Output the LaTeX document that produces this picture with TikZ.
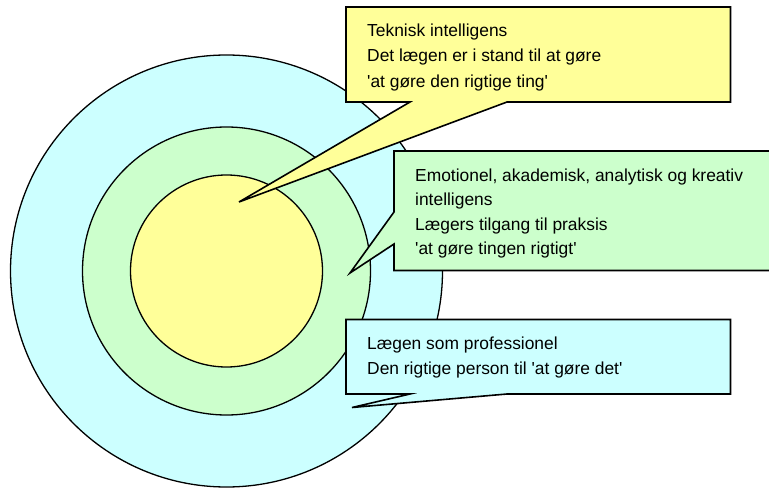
\documentclass[tikz,border=0pt]{standalone}
\usepackage{fontspec}
\setmainfont{Liberation Sans}[Ligatures=TeXOff]
\definecolor{ringblue}{HTML}{CCFFFF}
\definecolor{ringgreen}{HTML}{CCFFCC}
\definecolor{ringyellow}{HTML}{FFFF99}
\begin{document}
\begin{tikzpicture}[x=1bp,y=-1bp,
  ring/.style={circle,draw=black,line width=1.3bp,inner sep=0pt},
  callout/.style={draw=black,line width=1.6bp,line join=miter},
  txt/.style={anchor=base west,inner sep=0pt,font=\fontsize{17.4bp}{24bp}\selectfont}]
\useasboundingbox (0,0) rectangle (769,488);
\clip (0,0) rectangle (769,488);

% concentric rings
\coordinate (c) at (226.5,271);
\node[ring,fill=ringblue,minimum size=432bp] (outer) at (c) {};
\node[ring,fill=ringgreen,minimum size=288bp] (middle) at (c) {};
\node[ring,fill=ringyellow,minimum size=192bp] (inner) at (c) {};

% pointer tips
\coordinate (tipY) at (239,202);
\coordinate (tipG) at (350,273);
\coordinate (tipB) at (352,407.5);

% yellow callout
\draw[callout,fill=ringyellow] (346,7) -- (730.5,7) -- (730.5,102) -- (507,102)
  -- (tipY) -- (410,102) -- (346,102) -- cycle;
\node[txt] (y1) at (367,36.7) {Teknisk intelligens};
\node[txt] (y2) at (367,62) {Det lægen er i stand til at gøre};
\node[txt] (y3) at (367,87.3) {'at gøre den rigtige ting'};

% green callout
\draw[callout,fill=ringgreen] (394,151) -- (775,151) -- (775,270.5) -- (394,270.5)
  -- (394,244) -- (tipG) -- (394,212) -- cycle;
\node[txt] (g1) at (415,181.5) {Emotionel, akademisk, analytisk og kreativ};
\node[txt] (g2) at (415,206) {intelligens};
\node[txt] (g3) at (415,230.5) {Lægers tilgang til praksis};
\node[txt] (g4) at (415,255) {'at gøre tingen rigtigt'};

% blue callout
\draw[callout,fill=ringblue] (346,319.5) -- (730.5,319.5) -- (730.5,394) -- (507,394)
  -- (tipB) -- (410,394) -- (346,394) -- cycle;
\node[txt] (b1) at (367,349) {Lægen som professionel};
\node[txt] (b2) at (367,374.3) {Den rigtige person til 'at gøre det'};
\end{tikzpicture}
\end{document}
